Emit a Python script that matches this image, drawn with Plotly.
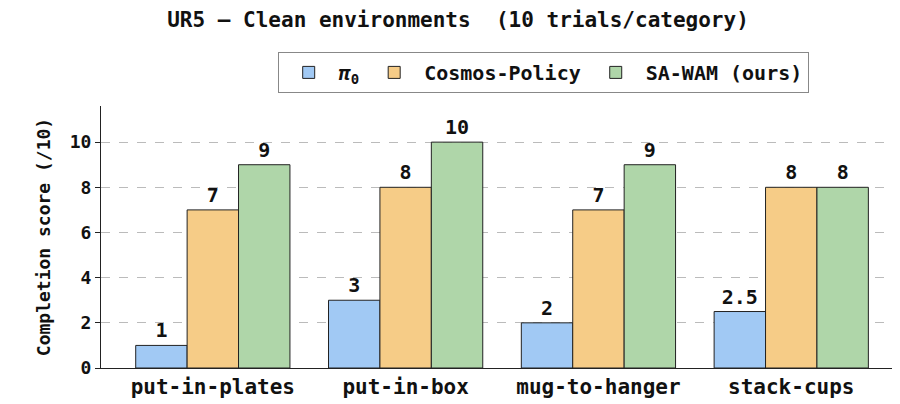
import plotly.graph_objects as go

categories = ["put-in-plates", "put-in-box", "mug-to-hanger", "stack-cups"]
series_names = ["<i>π</i><sub>0</sub>", "Cosmos-Policy", "SA-WAM (ours)"]
pi0 = [1, 3, 2, 2.5]
cosmos = [7, 8, 7, 8]
sawam = [9, 10, 9, 8]
colors = ["#a1c9f4", "#f6cc87", "#afd6a9"]
yticks = [0, 2, 4, 6, 8, 10]

F = "DejaVu Sans Mono"
fig = go.Figure()
for name, vals, c in zip(series_names, [pi0, cosmos, sawam], colors):
    fig.add_bar(x=categories, y=vals, name=name, marker=dict(color=c, line=dict(color="#222", width=1)),
                text=[f"{v:g}" for v in vals], textposition="outside", cliponaxis=False,
                textfont=dict(family=F, size=20, color="#111", weight="bold"))
fig.update_layout(
    width=900, height=404, barmode="group", bargap=0.2, bargroupgap=0,
    plot_bgcolor="white", paper_bgcolor="white",
    margin=dict(l=93, r=3, t=98, b=44, autoexpand=False),
    font=dict(family=F, color="#111", weight="bold"),
    title=dict(text="<b>UR5 — Clean environments  (10 trials/category)</b>", x=0.5, xanchor="center",
               y=0.99, yanchor="top", font=dict(size=21, family=F)),
    legend=dict(orientation="h", x=0.55, xanchor="center", y=1.05, yanchor="bottom",
                bordercolor="#888", borderwidth=1, font=dict(size=20, family=F), traceorder="normal",
                itemwidth=50),
    showlegend=True,
)
fig.update_xaxes(range=[-0.58, 3.59], showline=True, linecolor="#222", ticks="", automargin=False,
                 tickfont=dict(size=21, family=F, weight="bold"))
fig.update_yaxes(range=[0, 11.6], tickvals=yticks, showline=True, linecolor="#222", ticks="outside",
                 ticklen=5, tickcolor="#222", gridcolor="#bbb", griddash="dash", zeroline=False,
                 automargin=False, tickfont=dict(size=18, family=F, weight="bold"),
                 title=dict(text="<b>Completion score (/10)</b>", font=dict(size=18, family=F), standoff=14))
fig.write_html("out.html")
